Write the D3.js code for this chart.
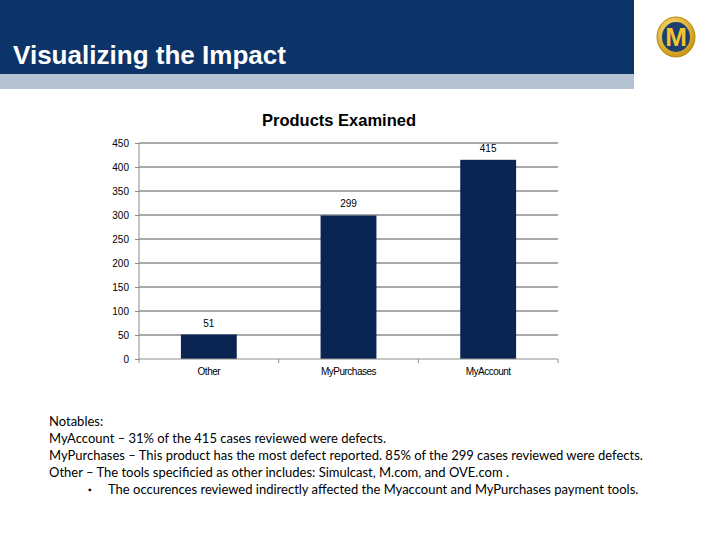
<!DOCTYPE html>
<html><head><meta charset="utf-8">
<script src="https://cdn.jsdelivr.net/npm/d3@7"></script>
<style>body{margin:0;background:#fff}svg{display:block}</style>
</head><body>
<svg id="c" width="720" height="540"></svg>
<script>
const categories = ["Other", "MyPurchases", "MyAccount"];
const values = [51, 299, 415];
const yTicks = [0, 50, 100, 150, 200, 250, 300, 350, 400, 450];
const chartTitle = "Products Examined";
const pageTitle = "Visualizing the Impact";
const notes = [
  "Notables:",
  "MyAccount – 31% of the 415  cases reviewed were defects.",
  "MyPurchases – This product has the most defect reported. 85% of the 299 cases reviewed were defects.",
  "Other – The tools specificied as other includes: Simulcast, M.com, and OVE.com ."
];
const bullet = "The occurences reviewed indirectly affected the Myaccount and MyPurchases payment tools.";

const svg = d3.select("#c");
// header
svg.append("rect").attr("x",0).attr("y",0).attr("width",634).attr("height",74).attr("fill","#0d3468");
svg.append("rect").attr("x",0).attr("y",74).attr("width",634).attr("height",15).attr("fill","#b4c2d2");
svg.append("text").attr("x",13).attr("y",64).attr("fill","#fff")
  .attr("font-family","Liberation Sans, Arial, sans-serif").attr("font-weight","bold").attr("font-size",26)
  .attr("textLength",273).attr("lengthAdjust","spacingAndGlyphs")
  .text(pageTitle);
// logo
const lg = svg.append("g").attr("transform","translate(676,37)");
const grad = svg.append("defs").append("radialGradient").attr("id","gold").attr("cx","40%").attr("cy","35%").attr("r","70%");
grad.append("stop").attr("offset","0%").attr("stop-color","#ffe680");
grad.append("stop").attr("offset","100%").attr("stop-color","#c8920e");
lg.append("ellipse").attr("rx",19).attr("ry",20).attr("fill","url(#gold)").attr("stroke","#b8860b");
lg.append("ellipse").attr("rx",14).attr("ry",15).attr("fill","#1d3f6e");
lg.append("text").attr("y",9).attr("text-anchor","middle").attr("font-family","Liberation Sans, Arial").attr("font-weight","bold")
  .attr("font-size",26).attr("fill","#f2c430").text("M");

// chart
const x0 = 139, x1 = 558, yTop = 143, yBot = 359;
const x = d3.scaleBand().domain(categories).range([x0, x1]).paddingInner(0.6).paddingOuter(0.3);
const xb = d3.scaleBand().domain(categories).range([x0, x1]);
const y = d3.scaleLinear().domain([0, 450]).range([yBot, yTop]);

svg.append("text").attr("x",339).attr("y",126).attr("text-anchor","middle")
  .attr("font-family","Liberation Sans, Arial, sans-serif").attr("font-weight","bold").attr("font-size",16.5)
  .attr("fill","#000").text(chartTitle);

const g = svg.append("g");
g.selectAll("line.grid").data(yTicks.filter(d=>d>0)).join("line")
  .attr("x1",x0).attr("x2",x1).attr("y1",d=>y(d)).attr("y2",d=>y(d))
  .attr("stroke","#8c8c8c").attr("stroke-width",1.3);

const ya = d3.axisLeft(y).tickValues(yTicks).tickSize(4).tickPadding(6);
const yg = svg.append("g").attr("transform",`translate(${x0},0)`).call(ya);
yg.select(".domain").attr("stroke","#8c8c8c").attr("d",`M0,${yTop}V${yBot}`);
yg.selectAll(".tick line").attr("stroke","#8c8c8c");
yg.selectAll("text").attr("font-family","Liberation Sans, Arial, sans-serif").attr("font-size",10).attr("fill","#000");

g.selectAll("rect.bar").data(values).join("rect")
  .attr("x",(d,i)=>x(categories[i])).attr("width",x.bandwidth())
  .attr("y",d=>y(d)).attr("height",d=>yBot-y(d)).attr("fill","#0b2553");

g.selectAll("text.val").data(values).join("text")
  .attr("x",(d,i)=>x(categories[i])+x.bandwidth()/2).attr("y",d=>y(d)-8)
  .attr("text-anchor","middle").attr("font-family","Liberation Sans, Arial, sans-serif").attr("font-size",10)
  .text(d=>d);

const xa = d3.axisBottom(xb).tickSize(0).tickPadding(9);
const xg = svg.append("g").attr("transform",`translate(0,${yBot})`).call(xa);
xg.select(".domain").attr("stroke","#8c8c8c").attr("d",`M${x0},0H${x1}`);
xg.selectAll("text").attr("font-family","Liberation Sans, Arial, sans-serif").attr("font-size",10).attr("fill","#000").attr("letter-spacing","-0.5");
// category boundary ticks
xg.selectAll("line.bt").data(categories.concat([null])).join("line")
  .attr("x1",(d,i)=>x0+i*xb.step()).attr("x2",(d,i)=>x0+i*xb.step()).attr("y1",0).attr("y2",4)
  .attr("stroke","#8c8c8c");

// notes
const nf = "Lato, 'Open Sans', sans-serif";
notes.forEach((t,i)=>{
  svg.append("text").attr("x",49).attr("y",426+i*17).attr("font-family",nf).attr("font-size",13)
    .attr("fill","#000").text(t);
});
svg.append("text").attr("x",88).attr("y",493).attr("font-family",nf).attr("font-size",9).text("▪");
svg.append("text").attr("x",108).attr("y",494).attr("font-family",nf).attr("font-size",13).text(bullet);
</script>
</body></html>
